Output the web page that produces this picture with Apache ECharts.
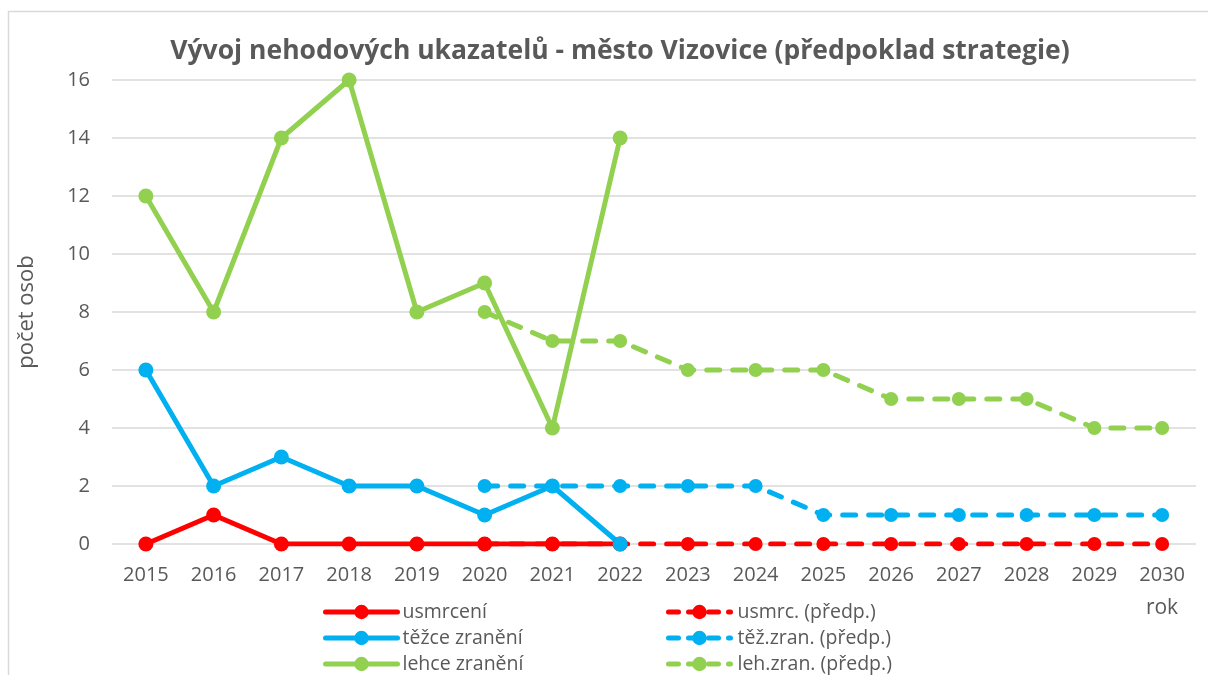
<!DOCTYPE html>
<html>
<head>
<meta charset="utf-8">
<script src="https://cdn.jsdelivr.net/npm/echarts@6/dist/echarts.min.js"></script>
<style>html,body{margin:0;padding:0;background:#fff}#c{width:1208px;height:675px}</style>
</head>
<body>
<div id="c"></div>
<script>
const years = ['2015','2016','2017','2018','2019','2020','2021','2022','2023','2024','2025','2026','2027','2028','2029','2030'];
const usmrceni      = [0, 1, 0, 0, 0, 0, 0, 0, null, null, null, null, null, null, null, null];
const usmrcPred     = [null, null, null, null, null, 0, 0, 0, 0, 0, 0, 0, 0, 0, 0, 0];
const tezceZraneni  = [6, 2, 3, 2, 2, 1, 2, 0, null, null, null, null, null, null, null, null];
const tezZranPred   = [null, null, null, null, null, 2, 2, 2, 2, 2, 1, 1, 1, 1, 1, 1];
const lehceZraneni  = [12, 8, 14, 16, 8, 9, 4, 14, null, null, null, null, null, null, null, null];
const lehZranPred   = [null, null, null, null, null, 8, 7, 7, 6, 6, 6, 5, 5, 5, 4, 4];
const yTicks = [0, 2, 4, 6, 8, 10, 12, 14, 16];
const legendLeft  = ['usmrcení', 'těžce zranění', 'lehce zranění'];
const legendRight = ['usmrc. (předp.)', 'těž.zran. (předp.)', 'leh.zran. (předp.)'];

const RED = '#FF0000', BLUE = '#00B0F0', GREEN = '#92D050';
const FONT = 'Open Sans';
const TXT = '#595959';

function mk(name, data, color, dashed) {
  return {
    name: name, type: 'line', data: data,
    symbol: 'circle', symbolSize: dashed ? 14 : 15,
    connectNulls: false,
    lineStyle: { color: color, width: 5, type: dashed ? [13, 13] : 'solid', cap: 'round' },
    itemStyle: { color: color },
    emphasis: { disabled: true },
    animation: false
  };
}

const rowTops = [597, 623, 649];
const legends = [];
legendLeft.forEach(function (n, i) {
  legends.push({
    data: [n], orient: 'horizontal', left: 318, top: rowTops[i],
    itemWidth: 72, itemHeight: 18, selectedMode: false,
    lineStyle: { width: 5, cap: 'round' },
    textStyle: { fontFamily: FONT, fontSize: 19.5, color: TXT, padding: [0, 0, 0, 0] }
  });
});
legendRight.forEach(function (n, i) {
  legends.push({
    data: [n], orient: 'horizontal', left: 661, top: rowTops[i],
    itemWidth: 62, itemHeight: 18, selectedMode: false,
    lineStyle: { width: 5, cap: 'round', type: [10, 10] },
    textStyle: { fontFamily: FONT, fontSize: 19.5, color: TXT, padding: [0, 0, 0, 2] }
  });
});

const chart = echarts.init(document.getElementById('c'));
chart.setOption({
  backgroundColor: '#fff',
  animation: false,
  title: {
    text: 'Vývoj nehodových ukazatelů - město Vizovice (předpoklad strategie)',
    left: 615, textAlign: 'center', top: 33,
    textStyle: { fontFamily: FONT, fontWeight: 'bold', fontSize: 26.5, color: TXT }
  },
  graphic: [{
    type: 'rect', shape: { x: 8.5, y: 11.5, width: 1230, height: 720 },
    style: { fill: 'none', stroke: '#d9d9d9', lineWidth: 1.5 }, silent: true
  }],
  grid: { left: 112, right: 12, top: 80, bottom: 131, containLabel: false },
  xAxis: {
    type: 'category', data: years, boundaryGap: true,
    name: 'rok', nameLocation: 'end',
    nameGap: 0,
    nameTextStyle: { fontFamily: FONT, fontSize: 21, color: TXT, align: 'center', verticalAlign: 'top', padding: [54, 0, 0, -68] },
    axisLine: { show: false }, axisTick: { show: false },
    axisLabel: { fontFamily: FONT, fontSize: 20, color: TXT, margin: 21 },
    splitLine: { show: false }
  },
  yAxis: {
    type: 'value', min: 0, max: 16, interval: 2,
    name: 'počet osob', nameLocation: 'middle', nameGap: 74, nameRotate: 90,
    nameTextStyle: { fontFamily: FONT, fontSize: 22, color: TXT },
    axisLine: { show: false }, axisTick: { show: false },
    axisLabel: { fontFamily: FONT, fontSize: 20, color: TXT, margin: 22,
      formatter: function (v) { return yTicks.indexOf(v) >= 0 ? String(v) : ''; } },
    splitLine: { lineStyle: { color: '#d9d9d9', width: 1.5 } }
  },
  legend: legends,
  series: [
    mk('usmrcení', usmrceni, RED, false),
    mk('usmrc. (předp.)', usmrcPred, RED, true),
    mk('těžce zranění', tezceZraneni, BLUE, false),
    mk('těž.zran. (předp.)', tezZranPred, BLUE, true),
    mk('lehce zranění', lehceZraneni, GREEN, false),
    mk('leh.zran. (předp.)', lehZranPred, GREEN, true)
  ]
});
</script>
</body>
</html>
